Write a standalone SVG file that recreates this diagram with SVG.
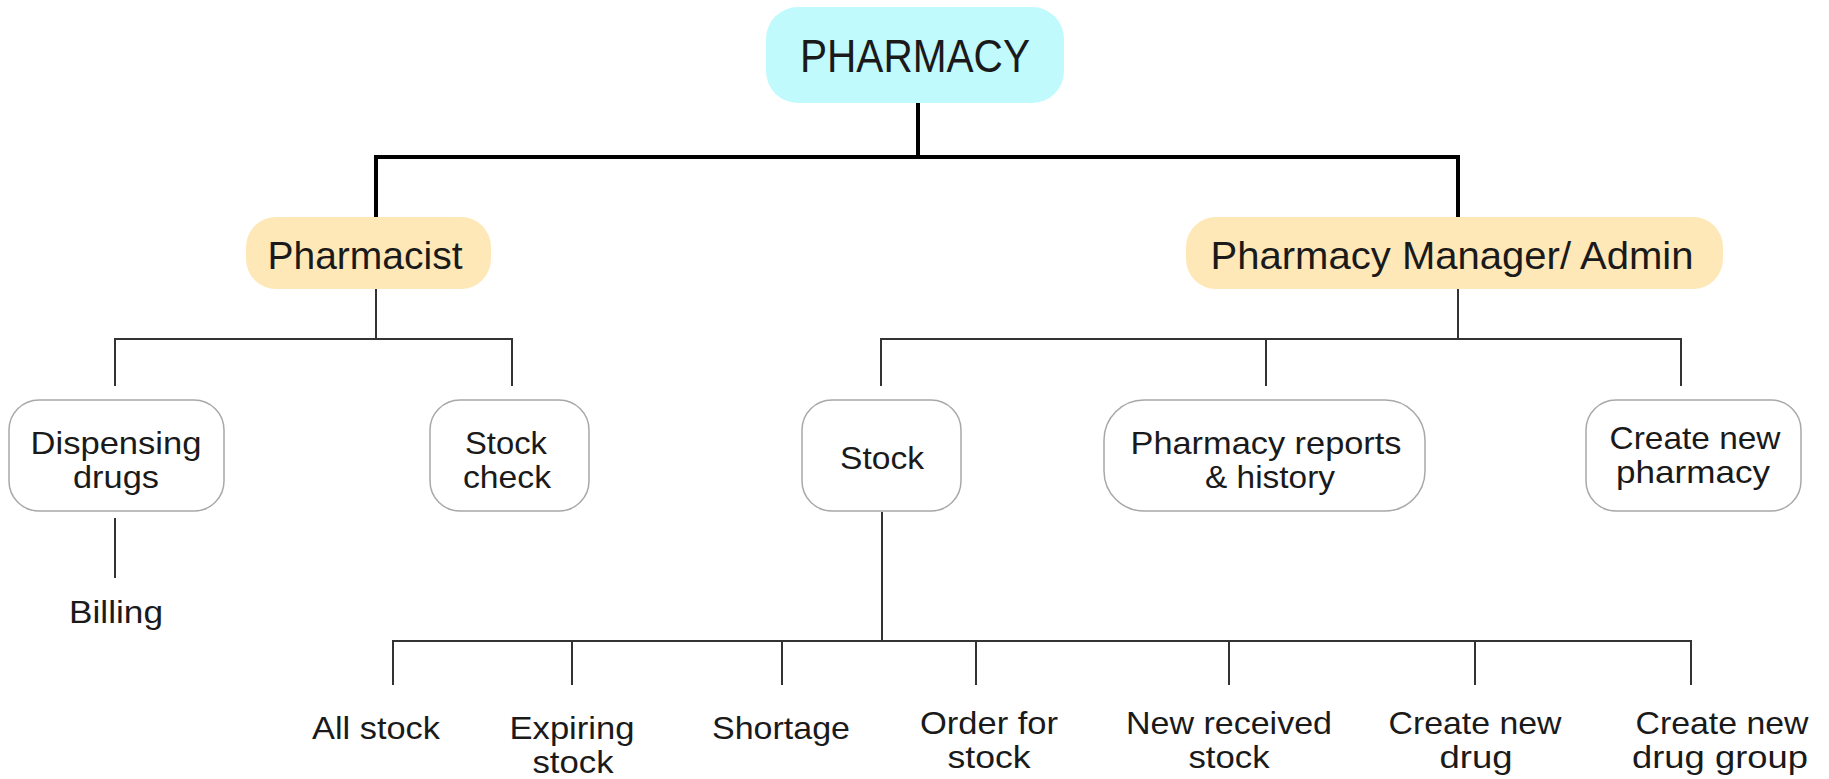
<svg xmlns="http://www.w3.org/2000/svg" width="1829" height="779" viewBox="0 0 1829 779">
<style>
text{font-family:"Liberation Sans",Arial,sans-serif;fill:#1a1a1a;text-anchor:middle}
.t0{font-size:47px}
.t1{font-size:39px}
.t2{font-size:32px}
.root{fill:#c0fafd}
.role{fill:#fee8b8}
.box{fill:#fff;stroke:#a8a8a8;stroke-width:1.5}
.thick{stroke:#000;stroke-width:4;fill:none}
.thin{stroke:#333;stroke-width:2;fill:none}
</style>
<rect width="1829" height="779" fill="#fff"/>
<g id="connectors">
<path class="thick" d="M918 103V157M376 157H1458M376 155V217M1458 155V217"/>
<path class="thin" d="M376 289V339M115 339H512M115 338V386M512 338V386"/>
<path class="thin" d="M1458 289V339M881 339H1681M881 338V386M1266 338V386M1681 338V386"/>
<path class="thin" d="M115 518V578"/>
<path class="thin" d="M882 512V641M393 641H1691M393 640V685M572 640V685M782 640V685M976 640V685M1229 640V685M1475 640V685M1691 640V685"/>
</g>
<g id="pharmacy">
<rect class="root" x="766" y="7" width="298" height="96" rx="32"/>
<text class="t0" x="915" y="72" textLength="230" lengthAdjust="spacingAndGlyphs">PHARMACY</text>
</g>
<g id="pharmacist">
<rect class="role" x="246" y="217" width="245" height="72" rx="30"/>
<text class="t1" x="365" y="269" textLength="195" lengthAdjust="spacingAndGlyphs">Pharmacist</text>
</g>
<g id="manager">
<rect class="role" x="1186" y="217" width="537" height="72" rx="30"/>
<text class="t1" x="1452" y="269" textLength="483" lengthAdjust="spacingAndGlyphs">Pharmacy Manager/ Admin</text>
</g>
<g id="dispensing">
<rect class="box" x="9" y="400" width="215" height="111" rx="30"/>
<text class="t2" x="116" y="454" textLength="171" lengthAdjust="spacingAndGlyphs">Dispensing</text>
<text class="t2" x="116" y="488" textLength="86" lengthAdjust="spacingAndGlyphs">drugs</text>
</g>
<g id="stockcheck">
<rect class="box" x="430" y="400" width="159" height="111" rx="30"/>
<text class="t2" x="506" y="454" textLength="82" lengthAdjust="spacingAndGlyphs">Stock</text>
<text class="t2" x="507" y="488" textLength="88" lengthAdjust="spacingAndGlyphs">check</text>
</g>
<g id="stock">
<rect class="box" x="802" y="400" width="159" height="111" rx="30"/>
<text class="t2" x="882" y="469" textLength="84" lengthAdjust="spacingAndGlyphs">Stock</text>
</g>
<g id="reports">
<rect class="box" x="1104" y="400" width="321" height="111" rx="40"/>
<text class="t2" x="1266" y="454" textLength="271" lengthAdjust="spacingAndGlyphs">Pharmacy reports</text>
<text class="t2" x="1270" y="488" textLength="130" lengthAdjust="spacingAndGlyphs">&amp; history</text>
</g>
<g id="createpharmacy">
<rect class="box" x="1586" y="400" width="215" height="111" rx="30"/>
<text class="t2" x="1695" y="449" textLength="171" lengthAdjust="spacingAndGlyphs">Create new</text>
<text class="t2" x="1693" y="483" textLength="154" lengthAdjust="spacingAndGlyphs">pharmacy</text>
</g>
<g id="billing">
<text class="t2" x="116" y="623" textLength="94" lengthAdjust="spacingAndGlyphs">Billing</text>
</g>
<g id="allstock">
<text class="t2" x="376" y="739" textLength="128" lengthAdjust="spacingAndGlyphs">All stock</text>
</g>
<g id="expiring">
<text class="t2" x="572" y="739" textLength="125" lengthAdjust="spacingAndGlyphs">Expiring</text>
<text class="t2" x="573" y="773" textLength="81" lengthAdjust="spacingAndGlyphs">stock</text>
</g>
<g id="shortage">
<text class="t2" x="781" y="739" textLength="138" lengthAdjust="spacingAndGlyphs">Shortage</text>
</g>
<g id="order">
<text class="t2" x="989" y="734" textLength="138" lengthAdjust="spacingAndGlyphs">Order for</text>
<text class="t2" x="989" y="768" textLength="83" lengthAdjust="spacingAndGlyphs">stock</text>
</g>
<g id="received">
<text class="t2" x="1229" y="734" textLength="206" lengthAdjust="spacingAndGlyphs">New received</text>
<text class="t2" x="1229" y="768" textLength="81" lengthAdjust="spacingAndGlyphs">stock</text>
</g>
<g id="newdrug">
<text class="t2" x="1475" y="734" textLength="173" lengthAdjust="spacingAndGlyphs">Create new</text>
<text class="t2" x="1476" y="768" textLength="73" lengthAdjust="spacingAndGlyphs">drug</text>
</g>
<g id="newgroup">
<text class="t2" x="1722" y="734" textLength="173" lengthAdjust="spacingAndGlyphs">Create new</text>
<text class="t2" x="1720" y="768" textLength="176" lengthAdjust="spacingAndGlyphs">drug group</text>
</g>
</svg>
